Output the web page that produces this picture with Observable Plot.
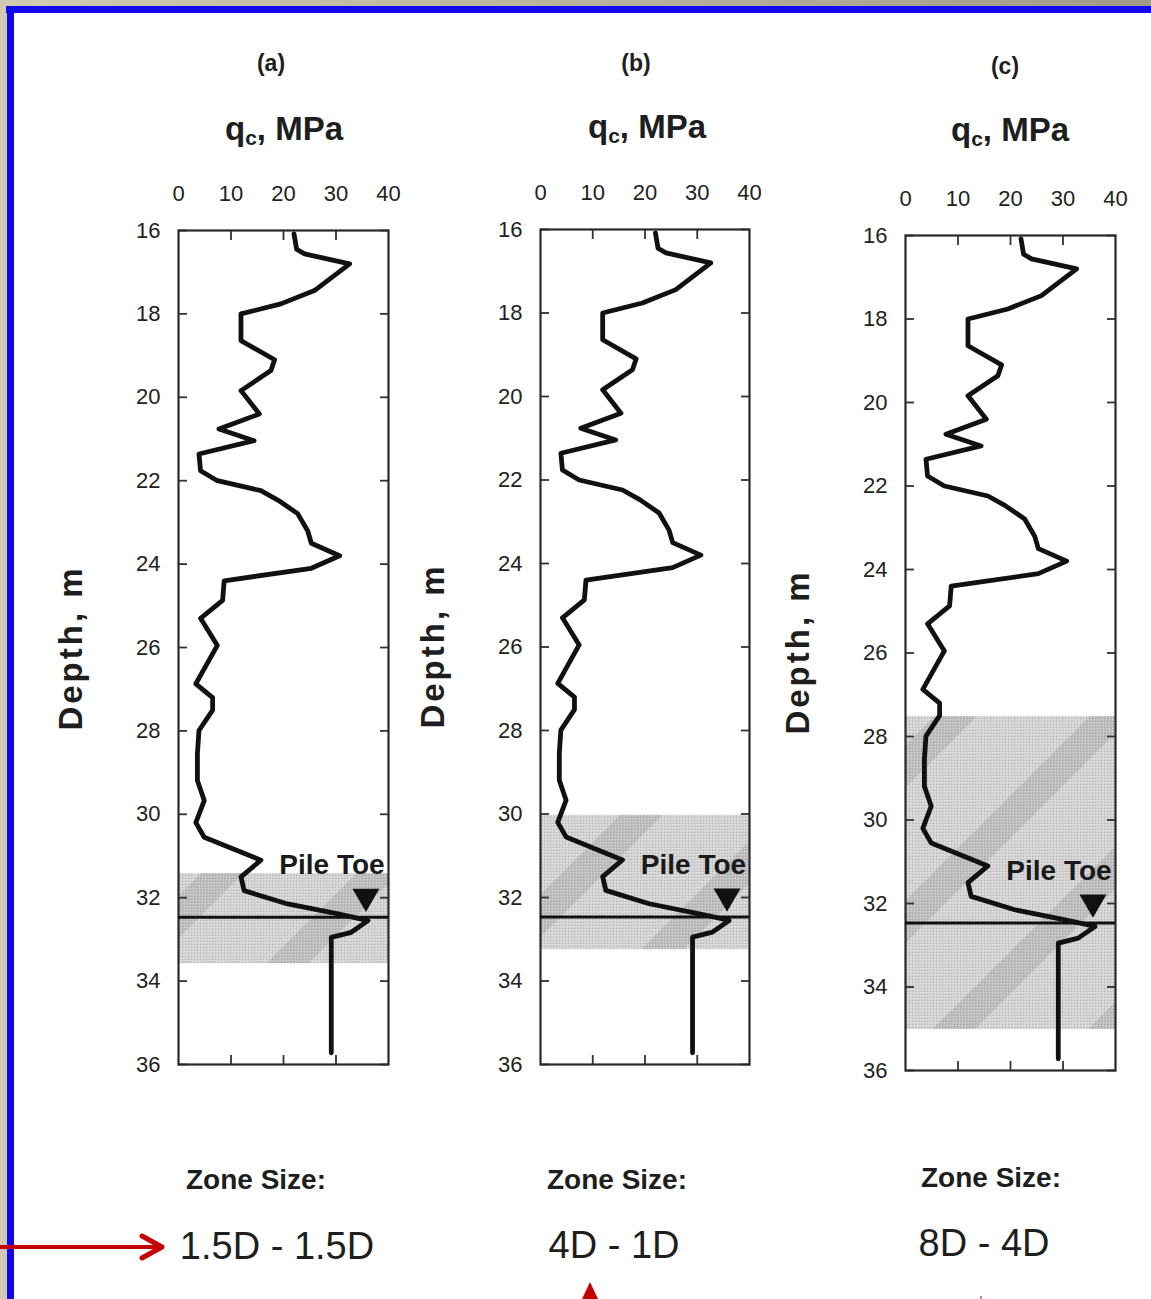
<!DOCTYPE html>
<html>
<head>
<meta charset="utf-8">
<script src="https://cdn.jsdelivr.net/npm/d3@7"></script>
<script src="https://cdn.jsdelivr.net/npm/@observablehq/plot@0.6"></script>
<style>
  html, body { margin: 0; padding: 0; background: #fff; }
  #page { position: relative; width: 1151px; height: 1299px; overflow: hidden; background: #fff;
          font-family: "Liberation Sans", Arial, sans-serif; color: #1e1e1e; }
  .abs { position: absolute; white-space: nowrap; line-height: 1; transform: translate(-50%, -50%); }
  .panelTag { font-size: 23px; font-weight: bold; }
  .xTitle { font-size: 33px; font-weight: bold; }
  .xTitle sub { font-size: 21px; vertical-align: -5px; }
  .yTitle { font-size: 33px; font-weight: bold; font-family: "Liberation Sans", Arial, sans-serif; letter-spacing: 3px;
            transform: translate(-50%, -50%) rotate(-90deg); }
  .zoneHead { font-size: 28px; font-weight: bold; }
  .zoneVal { font-size: 38px; }
</style>
</head>
<body>
<div id="page">
  <svg width="0" height="0" style="position:absolute">
    <defs>
      <pattern id="zoneStripes" patternUnits="userSpaceOnUse" width="110" height="110" patternTransform="rotate(-45)">
        <rect width="110" height="110" fill="#d3d3d3"></rect>
        <rect y="20" width="110" height="30" fill="#bdbdbd"></rect>
      </pattern>
      <pattern id="zoneDots" patternUnits="userSpaceOnUse" width="3" height="3">
        <rect x="0" y="0" width="1" height="1" fill="#8a8a8a"></rect>
        <rect x="2" y="1" width="1" height="1" fill="#ffffff"></rect>
      </pattern>
    </defs>
  </svg>
</div>
<script>
// ---------------- data ----------------
const panelTags = ["(a)", "(b)", "(c)"];
const zoneNames = ["1.5D - 1.5D", "4D - 1D", "8D - 4D"];
const zoneTop = [31.42, 30.03, 27.52];
const zoneBottom = [33.58, 33.25, 35.02];
const pileToeDepth = 32.47;
const pileToeMarkQ = 35.7;
const pileToeMarkDepth = 31.97;
const pileToeLabelQ = 19.2;
const pileToeLabelDepth = 31.22;
const xTicks = [0, 10, 20, 30, 40];
const xInnerTicks = [10, 20, 30];
const yTicks = [16, 18, 20, 22, 24, 26, 28, 30, 32, 34, 36];
const qc = [22.0, 22.5, 24.0, 32.6, 25.9, 19.5, 11.9, 11.9, 18.3, 17.6, 11.9, 15.4, 7.7, 14.4, 3.9, 4.2, 7.4, 15.7,
            19.0, 22.7, 24.6, 25.3, 30.7, 25.3, 8.7, 8.4, 4.2, 7.4, 3.3, 6.5, 6.5, 3.9, 3.6, 3.6, 4.9, 3.3, 4.9,
            15.7, 11.9, 12.5, 20.8, 30.4, 36.1, 32.9, 29.1, 29.1];
const depth = [16.08, 16.45, 16.56, 16.80, 17.44, 17.76, 18.00, 18.64, 19.10, 19.36, 19.84, 20.40, 20.76, 21.04, 21.36, 21.76, 22.00, 22.24,
               22.47, 22.79, 23.20, 23.50, 23.80, 24.10, 24.40, 24.87, 25.30, 25.95, 26.87, 27.20, 27.50, 27.99, 28.55, 29.19, 29.67, 30.20, 30.55,
               31.10, 31.50, 31.83, 32.15, 32.39, 32.55, 32.83, 32.95, 35.72];

// ---------------- layout ----------------
const frames = [
  {left: 178, top: 230, w: 210, h: 834, tag: [271, 63], title: [284, 130], ytitle: [70, 648], head: [256, 1180], val: [277, 1246]},
  {left: 540, top: 229, w: 209, h: 835, tag: [636, 63], title: [647, 128], ytitle: [432, 646], head: [617, 1180], val: [614, 1245]},
  {left: 905, top: 235, w: 210, h: 835, tag: [1005, 66], title: [1010, 131], ytitle: [797, 652], head: [991, 1178], val: [984, 1243]}
];
const M = {left: 80, right: 30, top: 60, bottom: 30};

const cpt = qc.map((q, i) => ({q, d: depth[i]}));
const page = document.getElementById("page");

function addText(cls, html, pos) {
  const el = document.createElement("div");
  el.className = "abs " + cls;
  el.innerHTML = html;
  el.style.left = pos[0] + "px";
  el.style.top = pos[1] + "px";
  page.appendChild(el);
}

frames.forEach((f, i) => {
  const zone = [{top: zoneTop[i], bottom: zoneBottom[i]}];
  const chart = Plot.plot({
    width: f.w + M.left + M.right,
    height: f.h + M.top + M.bottom,
    marginLeft: M.left, marginRight: M.right, marginTop: M.top, marginBottom: M.bottom,
    style: {fontFamily: "'Liberation Sans', Arial, sans-serif", fontSize: "22px", color: "#222", background: "transparent", overflow: "visible"},
    x: {domain: [xTicks[0], xTicks[xTicks.length - 1]]},
    y: {domain: [yTicks[0], yTicks[yTicks.length - 1]], reverse: true},
    marks: [
      Plot.rect(zone, {x1: () => xTicks[0], x2: () => xTicks[xTicks.length - 1], y1: "top", y2: "bottom", fill: "url(#zoneStripes)"}),
      Plot.rect(zone, {x1: () => xTicks[0], x2: () => xTicks[xTicks.length - 1], y1: "top", y2: "bottom", fill: "url(#zoneDots)", fillOpacity: 0.45}),
      Plot.axisX(xTicks, {anchor: "top", tickSize: 0, tickPadding: 30, label: null, fill: "#222"}),
      Plot.axisX(xInnerTicks, {anchor: "top", tickSize: -9, tickFormat: () => "", label: null, strokeWidth: 1.8, stroke: "#333"}),
      Plot.axisX(xInnerTicks, {anchor: "bottom", tickSize: -9, tickFormat: () => "", label: null, strokeWidth: 1.8, stroke: "#333"}),
      Plot.axisY(yTicks, {anchor: "left", tickSize: 0, tickPadding: 18, label: null, fill: "#222"}),
      Plot.axisY(yTicks, {anchor: "left", tickSize: -9, tickFormat: () => "", label: null, strokeWidth: 1.8, stroke: "#333"}),
      Plot.axisY(yTicks, {anchor: "right", tickSize: -9, tickFormat: () => "", label: null, strokeWidth: 1.8, stroke: "#333"}),
      Plot.frame({stroke: "#2a2a2a", strokeWidth: 2.2}),
      Plot.ruleY([pileToeDepth], {stroke: "#111", strokeWidth: 3}),
      Plot.line(cpt, {x: "q", y: "d", stroke: "#111", strokeWidth: 4.8, strokeLinejoin: "round", strokeLinecap: "round"}),
      Plot.dot([{q: pileToeMarkQ, d: pileToeMarkDepth}], {x: "q", y: "d", symbol: "triangle", r: 10, rotate: 180, fill: "#111", stroke: "none"}),
      Plot.text([{q: pileToeLabelQ, d: pileToeLabelDepth, t: "Pile Toe"}], {x: "q", y: "d", text: "t", textAnchor: "start", fontSize: 28, fontWeight: "bold", fill: "#1a1a1a"})
    ]
  });
  chart.style.position = "absolute";
  chart.style.left = (f.left - M.left) + "px";
  chart.style.top = (f.top - M.top) + "px";
  page.appendChild(chart);

  addText("panelTag", panelTags[i], f.tag);
  addText("xTitle", "q<sub>c</sub>, MPa", f.title);
  addText("yTitle", "Depth, m", f.ytitle);
  addText("zoneHead", "Zone Size:", f.head);
  addText("zoneVal", zoneNames[i], f.val);
});

// slide border and red annotation arrows (decoration)
const deco = document.createElementNS("http://www.w3.org/2000/svg", "svg");
deco.setAttribute("width", 1151); deco.setAttribute("height", 1299);
deco.style.position = "absolute"; deco.style.left = "0"; deco.style.top = "0";
deco.innerHTML = `
  <defs><linearGradient id="beige" x1="0" x2="1" y1="0" y2="0">
    <stop offset="0" stop-color="#d2c9b3"/><stop offset="1" stop-color="#a39a86"/></linearGradient></defs>
  <rect x="0" y="0" width="1151" height="6" fill="url(#beige)"/>
  <rect x="0" y="0" width="7" height="1299" fill="#d2c9b3"/>
  <rect x="6" y="6" width="1145" height="7" fill="#1208f0"/>
  <rect x="7" y="6" width="7" height="1293" fill="#1208f0"/>
  <line x1="0" y1="1247" x2="160" y2="1247" stroke="#c40000" stroke-width="4"/>
  <polyline points="142,1236 162,1247 142,1258" fill="none" stroke="#c40000" stroke-width="5" stroke-linecap="round" stroke-linejoin="round"/>
  <polygon points="590,1282 582,1299 598,1299" fill="#c40000"/>
  <line x1="981" y1="1296" x2="981" y2="1299" stroke="#c40000" stroke-width="1"/>
`;
page.appendChild(deco);
</script>
</body>
</html>
